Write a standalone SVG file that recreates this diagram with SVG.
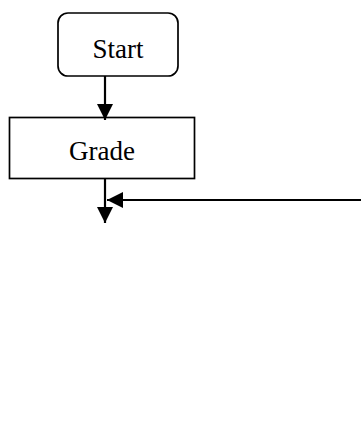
<svg xmlns="http://www.w3.org/2000/svg" width="361" height="444" viewBox="0 0 361 444">
<style>
.box{fill:#fff;stroke:#000;stroke-width:1.7}
.lbl{font-family:"Liberation Serif","Times New Roman",serif;font-size:27px;fill:#000;text-anchor:middle}
.edge{stroke:#000;stroke-width:2.2;fill:none}
</style>
<defs>
<marker id="ah" markerUnits="userSpaceOnUse" markerWidth="16" markerHeight="16" viewBox="0 0 14 14" refX="14" refY="7" orient="auto">
<path d="M0,0 L14,7 L0,14 Z" fill="#000"/>
</marker>
</defs>
<rect width="361" height="444" fill="#fff"/>
<g id="start">
<rect class="box" x="58" y="13" width="120" height="63" rx="10"/>
<text class="lbl" x="118" y="57.5">Start</text>
</g>
<g id="grade">
<rect class="box" x="9.5" y="117.5" width="185" height="61"/>
<text class="lbl" x="102" y="160">Grade</text>
</g>
<g id="connectors">
<line class="edge" x1="105" y1="76" x2="105" y2="120" marker-end="url(#ah)"/>
<line class="edge" x1="105" y1="178" x2="105" y2="223" marker-end="url(#ah)"/>
<line class="edge" x1="361" y1="200" x2="107" y2="200" marker-end="url(#ah)"/>
</g>
</svg>
